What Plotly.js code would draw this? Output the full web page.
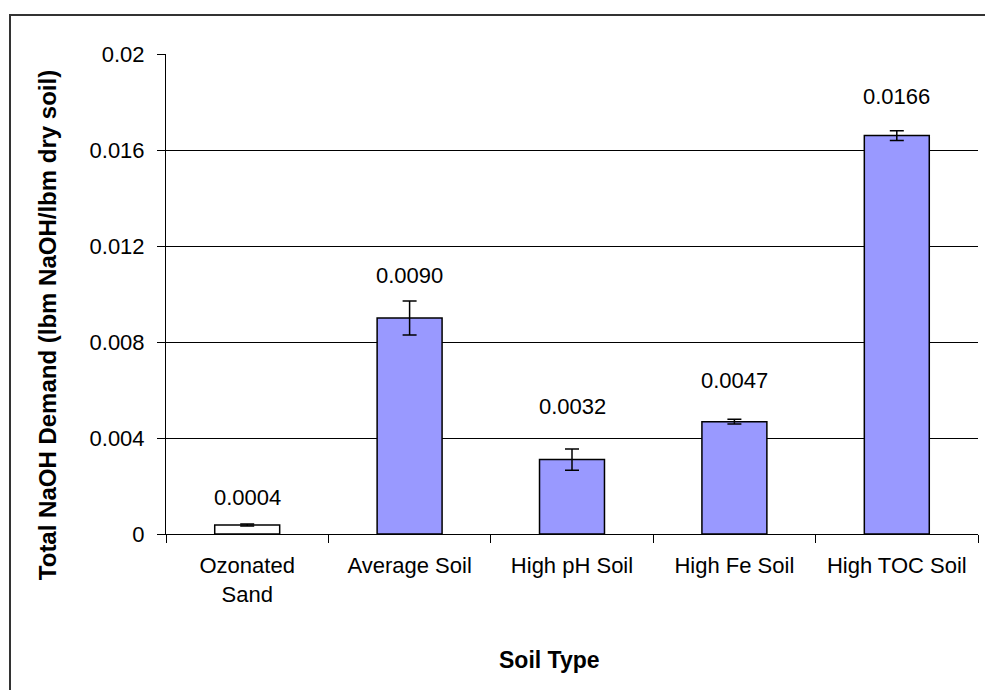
<!DOCTYPE html>
<html>
<head>
<meta charset="utf-8">
<script src="https://cdn.plot.ly/plotly-3.0.1.min.js"></script>
<style>
html,body{margin:0;padding:0;background:#fff;}
#wrap{position:relative;width:985px;height:690px;overflow:hidden;}
#chart{width:985px;height:690px;}
#frame{position:absolute;left:9px;top:14px;width:1000px;height:700px;border-top:2px solid #333;border-left:2px solid #333;pointer-events:none;}
</style>
</head>
<body>
<div id="wrap"><div id="chart"></div><div id="frame"></div></div>
<script>
var categories = ["Ozonated<br>Sand", "Average Soil", "High pH Soil", "High Fe Soil", "High TOC Soil"];
var demand = [0.000375, 0.009, 0.0031, 0.00468, 0.0166];
var errors = [0.00004, 0.00071, 0.00044, 0.0001, 0.0002];
var labels = ["0.0004", "0.0090", "0.0032", "0.0047", "0.0166"];
var fills = ["#FFFFFF", "#9999FF", "#9999FF", "#9999FF", "#9999FF"];
var xTitle = "Soil Type";
var yTitle = "Total NaOH Demand (lbm NaOH/lbm dry soil)";

var labelShift = [28, 43, 53, 41, 39];
var FONT = "Liberation Sans, Arial, sans-serif";

var trace = {
  type: "bar",
  x: categories,
  y: demand,
  marker: {color: fills, line: {color: "#000", width: 1.5}},
  error_y: {type: "data", array: errors, visible: true, color: "#000", thickness: 1.5, width: 7},
  hoverinfo: "none"
};

var annotations = categories.map(function(c, i){
  return {x: c, y: demand[i], xref: "x", yref: "y", text: labels[i], showarrow: false,
    yanchor: "middle", yshift: labelShift[i], font: {family: FONT, size: 22, color: "#000"}};
});
annotations.push({xref: "paper", yref: "paper", x: 0.4717, y: -0.2625, xanchor: "center", yanchor: "middle",
  text: "<b>" + xTitle + "</b>", showarrow: false, font: {family: FONT, size: 23, color: "#000"}});
annotations.push({xref: "paper", yref: "paper", x: -0.1466, y: 0.435, xanchor: "center", yanchor: "middle",
  textangle: -90, text: "<b>" + yTitle + "</b>", showarrow: false, font: {family: FONT, size: 24, color: "#000"}});

var layout = {
  width: 985, height: 690,
  margin: {l: 166, r: 7, t: 54, b: 156},
  paper_bgcolor: "#fff", plot_bgcolor: "#fff",
  bargap: 0.6,
  showlegend: false,
  font: {family: FONT, size: 22, color: "#000"},
  xaxis: {
    type: "category",
    showline: true, linecolor: "#000", linewidth: 1,
    ticks: "outside", tickson: "boundaries", ticklen: 8, tickcolor: "#000",
    ticklabelstandoff: 12,
    showgrid: false, zeroline: false,
    tickfont: {family: FONT, size: 22, color: "#000"}
  },
  yaxis: {
    range: [0, 0.02], tickvals: [0, 0.004, 0.008, 0.012, 0.016, 0.02],
    ticktext: ["0", "0.004", "0.008", "0.012", "0.016", "0.02"],
    showline: true, linecolor: "#000", linewidth: 1,
    ticks: "outside", ticklen: 8, tickcolor: "#000",
    ticklabelstandoff: 8,
    showgrid: true, gridcolor: "#000", gridwidth: 1, zeroline: false,
    tickfont: {family: FONT, size: 22, color: "#000"}
  },
  annotations: annotations
};

Plotly.newPlot("chart", [trace], layout, {staticPlot: true});
</script>
</body>
</html>
